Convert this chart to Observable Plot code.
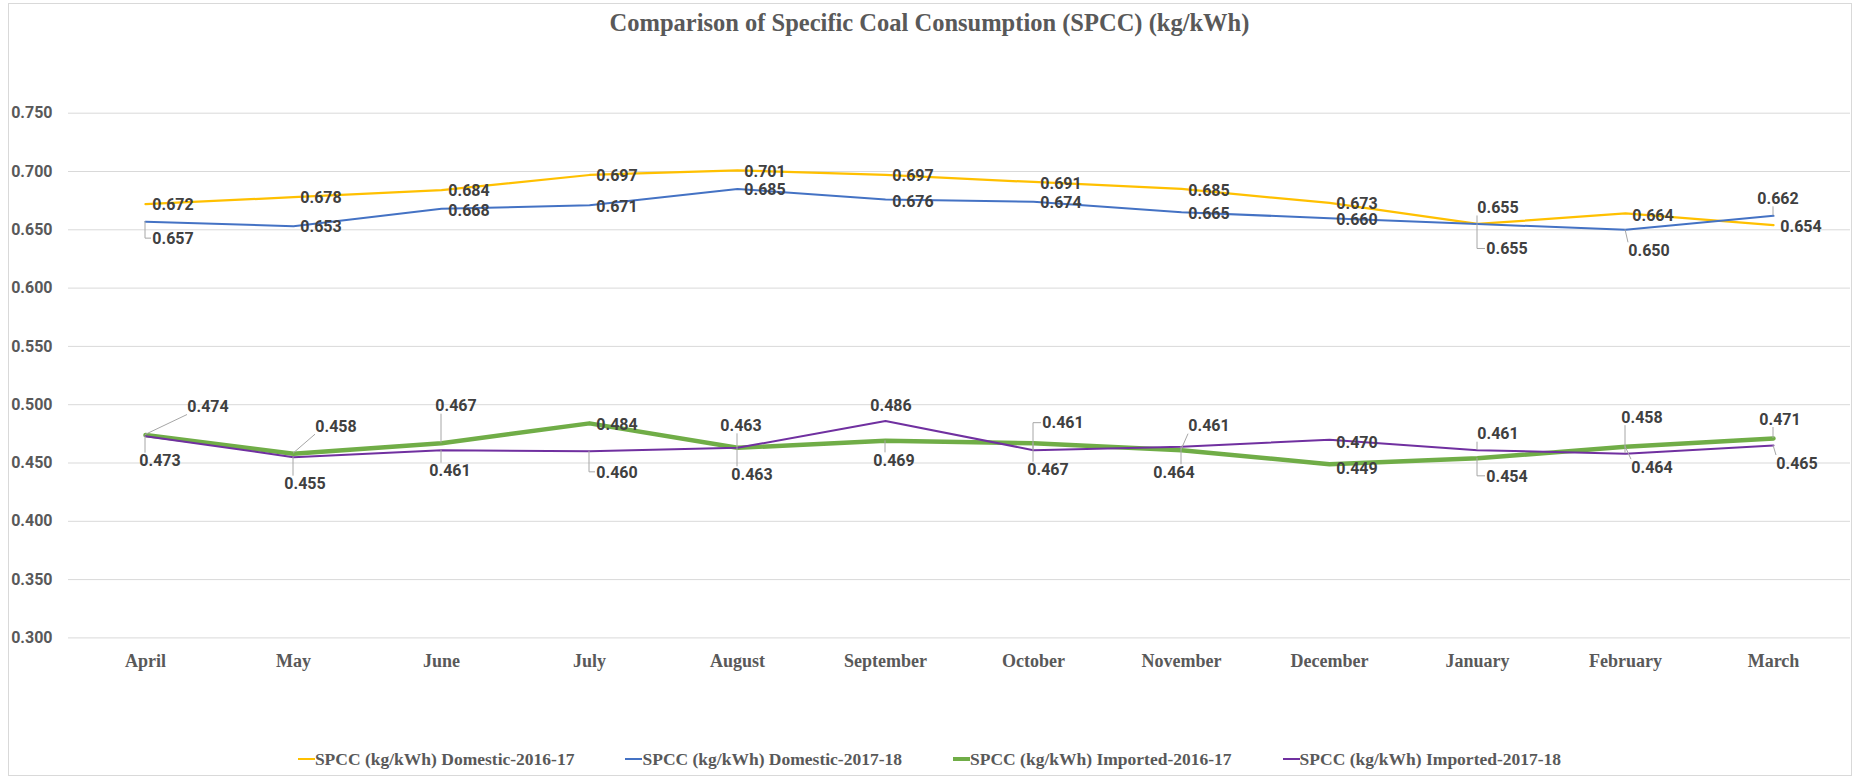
<!DOCTYPE html>
<html>
<head>
<meta charset="utf-8">
<script src="https://cdn.jsdelivr.net/npm/d3@7"></script>
<script src="https://cdn.jsdelivr.net/npm/@observablehq/plot@0.6"></script>
<style>
  body { margin: 0; background: #fff; }
  #wrap { position: relative; width: 1857px; height: 778px; overflow: hidden; background: #fff; }
  #frame { position: absolute; left: 8px; top: 3px; width: 1844px; height: 773px; border: 1px solid #d9d9d9; box-sizing: border-box; }
  #title { position: absolute; left: 8px; width: 1843px; top: 9px; line-height: 30px; text-align: center;
           font: bold 24.5px "Liberation Serif", serif; color: #595959; }
  #chart { position: absolute; left: 0; top: 0; }
  #legend { position: absolute; left: 8px; width: 1843px; top: 747px; height: 24px; display: flex;
            justify-content: center; align-items: center; gap: 51px;
            font: bold 17.5px "Liberation Serif", serif; color: #595959; }
  .item { display: flex; align-items: center; white-space: nowrap; }
  .sw { width: 17px; display: inline-block; }
</style>
</head>
<body>
<div id="wrap">
  <div id="frame"></div>
  <div id="chart"></div>
  <div id="title">Comparison of Specific Coal Consumption (SPCC) (kg/kWh)</div>
  <div id="legend"></div>
</div>
<script>
// ---- data ----
const months = ["April","May","June","July","August","September","October","November","December","January","February","March"];
const domestic1617 = [0.672,0.678,0.684,0.697,0.701,0.697,0.691,0.685,0.673,0.655,0.664,0.654];
const domestic1718 = [0.657,0.653,0.668,0.671,0.685,0.676,0.674,0.665,0.660,0.655,0.650,0.662];
const imported1617 = [0.474,0.458,0.467,0.484,0.463,0.469,0.467,0.461,0.449,0.454,0.464,0.471];
const imported1718 = [0.473,0.455,0.461,0.460,0.463,0.486,0.461,0.464,0.470,0.461,0.458,0.465];
const seriesNames = ["SPCC (kg/kWh) Domestic-2016-17","SPCC (kg/kWh) Domestic-2017-18","SPCC (kg/kWh) Imported-2016-17","SPCC (kg/kWh) Imported-2017-18"];
const yTicks = [0.300,0.350,0.400,0.450,0.500,0.550,0.600,0.650,0.700,0.750];

// ---- styles ----
const seriesColors = ["#FFC000","#4472C4","#70AD47","#7030A0"];
const seriesWidths = [2.25,2,4.5,2];
// label placement per point: [dx, dy, leader] (0 none, 1 straight, 2 elbow)
const labelPlacement = [
  [[28,1,0],[28,1,0],[28,1,0],[28,1,0],[28,1,0],[28,1,0],[28,2,0],[28,2,0],[28,1,0],[21,-16,1],[28,2,0],[28,2,0]],
  [[28,17,2],[28,0,0],[28,2,0],[28,1,0],[28,1,0],[28,2,0],[28,1,0],[28,1,0],[28,2,0],[30,25,2],[24,21,1],[5,-17,1]],
  [[63,-28,1],[43,-27,1],[15,-37,1],[28,1,0],[4,-22,1],[9,20,1],[15,27,1],[28,-24,1],[28,5,0],[30,18,2],[27,21,1],[7,-19,1]],
  [[15,25,1],[12,27,1],[9,21,1],[28,21,2],[15,27,1],[6,-15,0],[30,-27,2],[-7,26,1],[28,3,0],[21,-16,1],[17,-36,1],[24,18,1]]
];

const seriesValues = [domestic1617, domestic1718, imported1617, imported1718];
const rows = [];
seriesValues.forEach((vals, si) => vals.forEach((v, i) => rows.push({series: seriesNames[si], si, month: months[i], value: v})));

const fmt = d3.format(".3f");

const labelsMark = (index, scales) => {
  const g = d3.create("svg:g");
  const leaders = g.append("g").attr("stroke", "#a6a6a6").attr("stroke-width", 1).attr("fill", "none");
  const texts = g.append("g").attr("font-family", "Roboto, sans-serif").attr("font-weight", "bold")
    .attr("font-size", 16).attr("fill", "#404040").attr("text-anchor", "middle");
  seriesValues.forEach((vals, si) => {
    vals.forEach((v, i) => {
      const px = scales.x(months[i]), py = scales.y(v);
      const [dx, dy, lead] = labelPlacement[si][i];
      const cx = px + dx, cy = py + dy;
      if (lead === 2) {
        leaders.append("path").attr("d", `M${px},${py}V${cy}H${cx - 22}`);
      } else if (lead === 1) {
        const tx = Math.max(cx - 21, Math.min(cx + 21, px));
        const ty = Math.max(cy - 8, Math.min(cy + 8, py));
        if (Math.hypot(tx - px, ty - py) > 4) {
          leaders.append("path").attr("d", `M${px},${py}L${tx},${ty}`);
        }
      }
      texts.append("text").attr("x", cx).attr("y", cy).attr("dy", "0.36em").text(fmt(v));
    });
  });
  return g.node();
};

const lineMarks = seriesValues.map((vals, si) =>
  Plot.line(rows.filter(d => d.si === si), {
    x: "month", y: "value", stroke: seriesColors[si], strokeWidth: seriesWidths[si],
    strokeLinejoin: "round", strokeLinecap: "round"
  })
);

const chart = Plot.plot({
  width: 1857,
  height: 700,
  marginLeft: 68,
  marginRight: 7,
  marginTop: 112.7,
  marginBottom: 62.6,
  style: {background: "transparent", fontFamily: "Roboto, sans-serif"},
  x: {type: "point", domain: months, padding: 0.5},
  y: {domain: [0.3, 0.75]},
  marks: [
    Plot.gridY(yTicks, {stroke: "#d9d9d9", strokeOpacity: 1, strokeWidth: 1}),
    Plot.axisY(yTicks, {tickSize: 0, tickPadding: 16, tickFormat: fmt, label: null,
      fontFamily: "Roboto, sans-serif", fontWeight: "bold", fontSize: 16, fill: "#595959"}),
    Plot.axisX({tickSize: 0, tickPadding: 16, label: null,
      fontFamily: "Liberation Serif, serif", fontWeight: "bold", fontSize: 18, fill: "#595959"}),
    ...lineMarks,
    labelsMark
  ]
});
document.getElementById("chart").appendChild(chart);

// legend
const legend = d3.select("#legend");
seriesNames.forEach((name, si) => {
  const it = legend.append("div").attr("class", "item");
  it.append("span").attr("class", "sw")
    .style("height", (si === 2 ? 4.5 : 2.5) + "px")
    .style("background", seriesColors[si]);
  it.append("span").text(name);
});
</script>
</body>
</html>
